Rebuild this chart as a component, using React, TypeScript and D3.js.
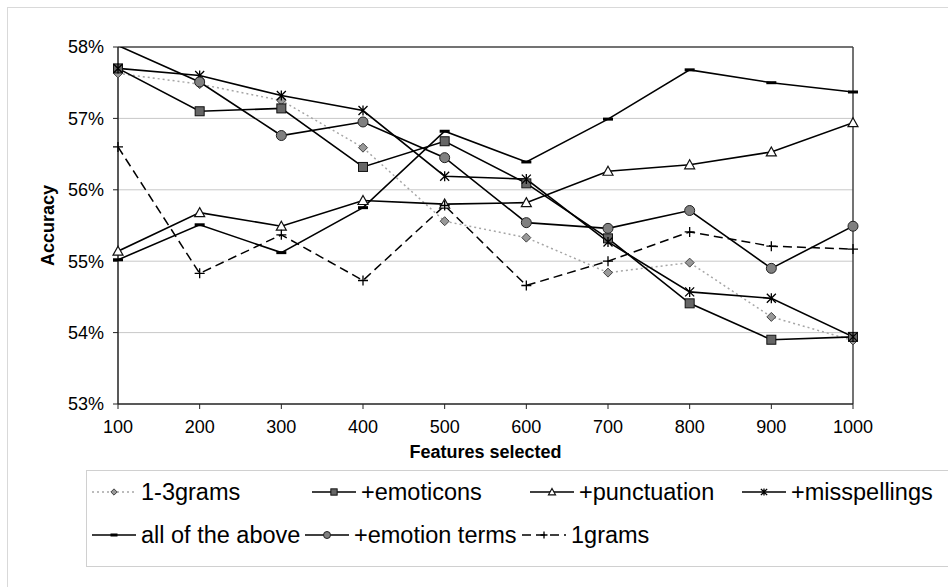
import React from 'react';
import * as d3 from 'd3';

const featureCounts = [100, 200, 300, 400, 500, 600, 700, 800, 900, 1000];
const yTicks = [53, 54, 55, 56, 57, 58];

const grams13 = [57.63, 57.48, 57.25, 56.59, 55.56, 55.33, 54.84, 54.98, 54.22, 53.89];
const emoticons = [57.7, 57.1, 57.14, 56.32, 56.68, 56.09, 55.32, 54.41, 53.9, 53.94];
const punctuation = [55.14, 55.68, 55.49, 55.85, 55.8, 55.82, 56.26, 56.35, 56.53, 56.94];
const misspellings = [57.7, 57.6, 57.32, 57.11, 56.19, 56.15, 55.27, 54.57, 54.48, 53.94];
const allAbove = [55.02, 55.51, 55.12, 55.75, 56.82, 56.39, 56.99, 57.68, 57.5, 57.37];
const emotionTerms = [58.02, 57.51, 56.76, 56.95, 56.45, 55.54, 55.46, 55.71, 54.9, 55.49];
const grams1 = [56.6, 54.83, 55.37, 54.73, 55.78, 54.66, 55.0, 55.41, 55.21, 55.17];

type Marker = 'diamond' | 'square' | 'triangle' | 'star' | 'dash' | 'circle' | 'plus';

interface Series {
  name: string;
  values: number[];
  marker: Marker;
  stroke: string;
  dash?: string;
}

const series: Series[] = [
  { name: '1-3grams', values: grams13, marker: 'diamond', stroke: '#a6a6a6', dash: '2,3' },
  { name: '+emoticons', values: emoticons, marker: 'square', stroke: '#000' },
  { name: '+punctuation', values: punctuation, marker: 'triangle', stroke: '#000' },
  { name: '+misspellings', values: misspellings, marker: 'star', stroke: '#000' },
  { name: 'all of the above', values: allAbove, marker: 'dash', stroke: '#000' },
  { name: '+emotion terms', values: emotionTerms, marker: 'circle', stroke: '#000' },
  { name: '1grams', values: grams1, marker: 'plus', stroke: '#000', dash: '9,5' },
];

// legend layout (item x positions per row)
const legendRows = [
  [92, 312, 530, 742],
  [92, 305, 522],
];

const font = '"Liberation Sans", Arial, sans-serif';

function MarkerShape({ type, cx, cy, s = 1 }: { type: Marker; cx: number; cy: number; s?: number }) {
  switch (type) {
    case 'diamond':
      return (
        <path
          d={`M${cx},${cy - 4.5 * s}L${cx + 4.5 * s},${cy}L${cx},${cy + 4.5 * s}L${cx - 4.5 * s},${cy}Z`}
          fill="#999"
          stroke="#444"
          strokeWidth={1}
        />
      );
    case 'square':
      return (
        <rect x={cx - 4.5 * s} y={cy - 4.5 * s} width={9 * s} height={9 * s} fill="#666" stroke="#111" strokeWidth={1} />
      );
    case 'triangle':
      return (
        <path
          d={`M${cx},${cy - 5 * s}L${cx + 5 * s},${cy + 4 * s}L${cx - 5 * s},${cy + 4 * s}Z`}
          fill="#fff"
          stroke="#111"
          strokeWidth={1.2}
        />
      );
    case 'star':
      return (
        <path
          d={`M${cx - 4.5 * s},${cy - 4.5 * s}L${cx + 4.5 * s},${cy + 4.5 * s}M${cx + 4.5 * s},${cy - 4.5 * s}L${cx - 4.5 * s},${cy + 4.5 * s}M${cx},${cy - 5 * s}L${cx},${cy + 5 * s}`}
          fill="none"
          stroke="#000"
          strokeWidth={1.3}
        />
      );
    case 'dash':
      return <rect x={cx - 5 * s} y={cy - 1.5} width={10 * s} height={3} fill="#000" />;
    case 'circle':
      return <circle cx={cx} cy={cy} r={5 * s} fill="#808080" stroke="#222" strokeWidth={1} />;
    case 'plus':
      return (
        <path
          d={`M${cx - 5 * s},${cy}L${cx + 5 * s},${cy}M${cx},${cy - 5 * s}L${cx},${cy + 5 * s}`}
          fill="none"
          stroke="#000"
          strokeWidth={1.3}
        />
      );
  }
}

export default function App() {
  const width = 948;
  const height = 587;
  const plot = { left: 118, right: 853, top: 47, bottom: 404 };

  const x = d3.scaleLinear().domain([100, 1000]).range([plot.left, plot.right]);
  const y = d3.scaleLinear().domain([53, 58]).range([plot.bottom, plot.top]);

  const line = d3
    .line<number>()
    .x((_, i) => x(featureCounts[i]))
    .y((d) => y(d));

  return (
    <svg
      width={width}
      height={height}
      style={{ position: 'fixed', left: 0, top: 0, background: '#fff' }}
      fontFamily={font}
    >
      <defs>
        <clipPath id="plotClip">
          <rect x={plot.left} y={plot.top} width={plot.right - plot.left} height={plot.bottom - plot.top} />
        </clipPath>
      </defs>
      <rect x={0} y={0} width={width} height={height} fill="#fff" />
      {/* chart area border */}
      <rect x={7.5} y={7.5} width={width + 20} height={height + 20} fill="none" stroke="#d9d9d9" strokeWidth={1} />

      {/* gridlines */}
      {yTicks
        .filter((t) => t > 53 && t < 58)
        .map((t) => (
          <line key={t} x1={plot.left} x2={plot.right} y1={y(t)} y2={y(t)} stroke="#c8c8c8" strokeWidth={1} />
        ))}

      {/* plot frame */}
      <line x1={plot.left} x2={plot.right} y1={plot.top} y2={plot.top} stroke="#444" strokeWidth={1.5} />
      <line x1={plot.right} x2={plot.right} y1={plot.top} y2={plot.bottom} stroke="#444" strokeWidth={1.5} />

      {/* y axis */}
      <line x1={plot.left} x2={plot.left} y1={plot.top} y2={plot.bottom} stroke="#222" strokeWidth={1.5} />
      {yTicks.map((t) => (
        <g key={t}>
          <line x1={plot.left - 5} x2={plot.left} y1={y(t)} y2={y(t)} stroke="#222" strokeWidth={1} />
          <text x={plot.left - 14} y={y(t)} dy="0.35em" textAnchor="end" fontSize={18} fill="#000">
            {`${t}%`}
          </text>
        </g>
      ))}
      <text
        transform={`translate(54,${(plot.top + plot.bottom) / 2}) rotate(-90)`}
        textAnchor="middle"
        fontSize={18}
        fontWeight="bold"
        fill="#000"
      >
        Accuracy
      </text>

      {/* x axis */}
      <line x1={plot.left} x2={plot.right} y1={plot.bottom} y2={plot.bottom} stroke="#222" strokeWidth={1.5} />
      {featureCounts.map((f) => (
        <g key={f}>
          <line x1={x(f)} x2={x(f)} y1={plot.bottom} y2={plot.bottom + 5} stroke="#222" strokeWidth={1} />
          <text x={x(f)} y={plot.bottom + 23} dy="0.35em" textAnchor="middle" fontSize={18} fill="#000">
            {f}
          </text>
        </g>
      ))}
      <text x={(plot.left + plot.right) / 2} y={452} dy="0.35em" textAnchor="middle" fontSize={18} fontWeight="bold">
        Features selected
      </text>

      {/* series */}
      <g clipPath="url(#plotClip)">
        {series.map((s) => (
          <path
            key={s.name}
            d={line(s.values) || ''}
            fill="none"
            stroke={s.stroke}
            strokeWidth={s.dash ? 1.5 : 1.6}
            strokeDasharray={s.dash}
          />
        ))}
      </g>
      {series.map((s) => (
        <g key={s.name + '-m'}>
          {s.values.map((v, i) =>
            v <= 58 ? <MarkerShape key={i} type={s.marker} cx={x(featureCounts[i])} cy={y(v)} /> : null
          )}
        </g>
      ))}

      {/* legend */}
      <rect x={86.5} y={470.5} width={900} height={96} fill="none" stroke="#d0d0d0" strokeWidth={1} />
      {legendRows.map((row, ri) =>
        row.map((lx, ci) => {
          const s = series[ri * 4 + ci];
          const ly = 492 + ri * 43;
          return (
            <g key={s.name + '-l'}>
              <line
                x1={lx}
                x2={lx + 44}
                y1={ly}
                y2={ly}
                stroke={s.stroke}
                strokeWidth={1.5}
                strokeDasharray={s.dash}
              />
              <MarkerShape type={s.marker} cx={lx + 22} cy={ly} s={0.7} />
              <text x={lx + 49} y={ly} dy="0.36em" fontSize={23.5} fill="#000">
                {s.name}
              </text>
            </g>
          );
        })
      )}
    </svg>
  );
}
